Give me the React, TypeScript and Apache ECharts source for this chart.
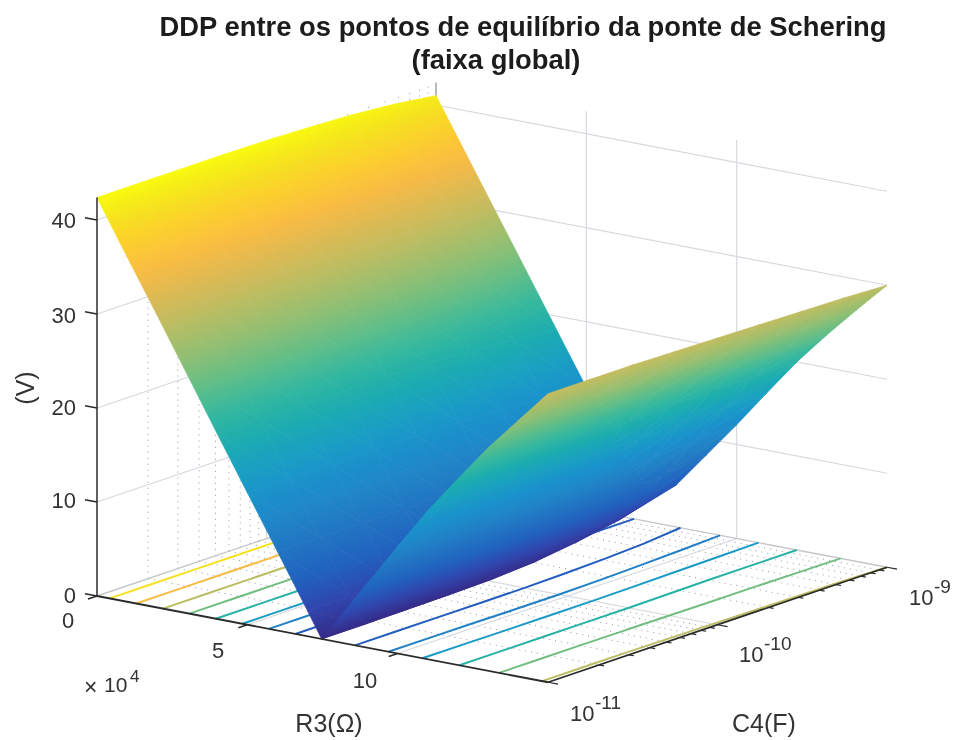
import React, { useEffect, useRef } from "react";
import * as echarts from "echarts";

const titleLine1 = "DDP entre os pontos de equilíbrio da ponte de Schering";
const titleLine2 = "(faixa global)";
const zTicks = [0, 10, 20, 30, 40];
const r3Ticks = [0, 5, 10];
const c4Decades = [-11, -10, -9];
const contourLevels = [5, 10, 15, 20, 25, 30, 35, 40];

// R3 in units of 1e4 ohm
const r3Values = [0, 1, 2, 3, 4, 5, 6, 7, 7.47, 8, 9, 10, 11, 12, 13, 14, 15];
// log10 of C4
const c4Exponents = [-11, -10.75, -10.5, -10.25, -10, -9.75, -9.5, -9.25, -9];
// DDP in volts: one row per R3 value, one column per C4 exponent
const ddp = [
  [42.4, 42.4, 42.4, 42.4, 42.35, 42.2, 42.0, 41.6, 41.0],
  [36.7, 36.7, 36.7, 36.7, 36.7, 36.55, 36.35, 35.95, 35.4],
  [31.1, 31.1, 31.1, 31.1, 31.0, 30.9, 30.7, 30.3, 29.8],
  [25.4, 25.4, 25.4, 25.4, 25.35, 25.2, 25.0, 24.65, 24.2],
  [19.7, 19.7, 19.7, 19.7, 19.7, 19.55, 19.35, 19.0, 18.6],
  [14.05, 14.05, 14.05, 14.05, 14.0, 13.9, 13.7, 13.4, 13.0],
  [8.4, 8.4, 8.4, 8.4, 8.4, 8.3, 8.1, 7.8, 7.4],
  [2.7, 2.7, 2.75, 2.8, 2.9, 3.0, 3.0, 3.0, 3.3],
  [0, 0, 0.05, 0.1, 0.2, 0.5, 1.1, 1.9, 3.2],
  [2.4, 2.4, 2.4, 2.4, 2.5, 2.7, 3.0, 3.6, 4.5],
  [6.9, 6.9, 6.85, 6.8, 6.8, 7.0, 7.3, 7.7, 8.3],
  [11.4, 11.35, 11.3, 11.2, 11.2, 11.3, 11.6, 11.9, 12.1],
  [15.8, 15.75, 15.7, 15.7, 15.7, 15.8, 15.9, 16.0, 16.1],
  [19.8, 19.8, 19.8, 19.8, 19.8, 19.9, 20.0, 20.0, 20.0],
  [23.7, 23.7, 23.7, 23.7, 23.6, 23.6, 23.6, 23.5, 23.5],
  [27.2, 27.2, 27.2, 27.1, 27.1, 27.0, 27.0, 26.9, 26.8],
  [30.7, 30.7, 30.7, 30.6, 30.5, 30.4, 30.3, 30.2, 30.0],
];

const R3_MAX = 15;
const C4_MIN = -11;
const C4_MAX = -9;
const Z_TOP = 42.4;

// colour map as printed in the picture (parula, blues slightly muted) [position 0..63, r, g, b]
const parula: number[][] = [
  [0, 0.2081, 0.1663, 0.5292], [4, 0.19, 0.27, 0.68], [8, 0.13, 0.38, 0.75],
  [12, 0.13, 0.45, 0.76], [16, 0.13, 0.52, 0.78], [20, 0.1, 0.57, 0.8],
  [24, 0.1, 0.63, 0.76], [28, 0.11, 0.68, 0.68], [32, 0.2178, 0.725, 0.6193],
  [36, 0.3953, 0.7459, 0.5244], [40, 0.5709, 0.7485, 0.4494], [44, 0.7184, 0.7411, 0.3905],
  [48, 0.8507, 0.7299, 0.336], [52, 0.9739, 0.7314, 0.2666], [56, 0.988, 0.8066, 0.1794],
  [60, 0.9589, 0.8949, 0.1132], [63, 0.9763, 0.9831, 0.0538],
];

function colorOf(z: number): string {
  const p = Math.max(0, Math.min(1, z / Z_TOP)) * 63;
  let i = 0;
  while (i < parula.length - 2 && parula[i + 1][0] < p) i++;
  const a = parula[i];
  const b = parula[i + 1];
  const t = (p - a[0]) / (b[0] - a[0]);
  const ch = (k: number) => Math.round((a[k] + (b[k] - a[k]) * t) * 255);
  return `rgb(${ch(1)},${ch(2)},${ch(3)})`;
}

// orthographic view of the box onto the page
function project(r: number, e: number, z: number): number[] {
  const d = e - C4_MIN;
  return [97 + 30.07 * r + 169.5 * d, 596 + 5.75 * r - 57.5 * d - 9.4 * z];
}

function lineSeries(points: number[][], color: string, width: number, dash?: number[] | "solid", z = 1) {
  return {
    type: "line",
    data: points,
    showSymbol: false,
    symbol: "none",
    silent: true,
    clip: false,
    z,
    lineStyle: { color, width, type: dash ?? "solid", cap: "butt" },
    emphasis: { disabled: true },
  };
}

function buildLines() {
  const out: any[] = [];
  const grid = "#d6d9de";
  const edge = "#c4c6c9";
  const dots = "#8d97a5";
  const minors: number[] = [];
  for (let d = C4_MIN; d < C4_MAX; d++) {
    for (let m = 2; m <= 9; m++) minors.push(d + Math.log10(m));
  }
  // dotted minor grid: left wall and floor
  minors.forEach((e) => {
    out.push(lineSeries([project(0, e, 0), project(0, e, Z_TOP)], dots, 1, [1, 5]));
    out.push(lineSeries([project(0, e, 0), project(R3_MAX, e, 0)], dots, 1, [1, 5]));
  });
  // walls
  zTicks.slice(1).forEach((z) => {
    out.push(lineSeries([project(0, C4_MIN, z), project(0, C4_MAX, z), project(R3_MAX, C4_MAX, z)], grid, 1.2));
  });
  [5, 10].forEach((r) => {
    out.push(lineSeries([project(r, C4_MAX, 0), project(r, C4_MAX, Z_TOP)], grid, 1.2));
    out.push(lineSeries([project(r, C4_MIN, 0), project(r, C4_MAX, 0)], grid, 1.2));
  });
  out.push(lineSeries([project(0, -10, 0), project(0, -10, Z_TOP)], grid, 1.2));
  out.push(lineSeries([project(0, -10, 0), project(R3_MAX, -10, 0)], grid, 1.2));
  out.push(lineSeries([project(0, C4_MIN, 0), project(0, C4_MAX, 0), project(R3_MAX, C4_MAX, 0)], edge, 1.4));
  out.push(lineSeries([project(0, C4_MAX, 0), project(0, C4_MAX, Z_TOP)], "#8a8a8a", 1.2));

  // contour lines on the floor, found from the table
  contourLevels.forEach((level) => {
    const left: number[][] = [];
    const right: number[][] = [];
    c4Exponents.forEach((e, j) => {
      for (let i = 0; i < r3Values.length - 1; i++) {
        const a = ddp[i][j];
        const b = ddp[i + 1][j];
        if ((a - level) * (b - level) <= 0 && a !== b) {
          const r = r3Values[i] + ((level - a) / (b - a)) * (r3Values[i + 1] - r3Values[i]);
          (a > b ? left : right).push(project(r, e, 0));
        }
      }
    });
    const c = colorOf(level);
    if (left.length > 1) out.push(lineSeries(left, c, 2, "solid", 2));
    if (right.length > 1) out.push(lineSeries(right, c, 2, "solid", 2));
  });

  // axes
  const ink = "#2b2b2b";
  out.push(lineSeries([project(0, C4_MIN, 0), project(0, C4_MIN, Z_TOP)], ink, 1.5, "solid", 6));
  out.push(lineSeries([project(0, C4_MIN, 0), project(R3_MAX, C4_MIN, 0)], ink, 1.8, "solid", 6));
  out.push(lineSeries([project(R3_MAX, C4_MIN, 0), project(R3_MAX, C4_MAX, 0)], ink, 1.8, "solid", 6));
  zTicks.forEach((z) => {
    const p = project(0, C4_MIN, z);
    out.push(lineSeries([p, [p[0] - 12, p[1] - 2.3]], ink, 1.4, "solid", 6));
  });
  r3Ticks.forEach((r) => {
    const p = project(r, C4_MIN, 0);
    out.push(lineSeries([p, [p[0] - 9, p[1] + 3]], ink, 1.4, "solid", 6));
  });
  [...c4Decades, ...minors].forEach((e) => {
    const major = c4Decades.includes(e);
    const p = project(R3_MAX, e, 0);
    const k = major ? 10 : 5;
    out.push(lineSeries([p, [p[0] + k, p[1] + k * 0.19]], ink, 1.2, "solid", 6));
  });
  return out;
}

function buildTriangles() {
  const tris: number[][] = [];
  const add = (i: number, j: number) => [...project(r3Values[i], c4Exponents[j], ddp[i][j]), ddp[i][j]];
  for (let i = 0; i < r3Values.length - 1; i++) {
    for (let j = c4Exponents.length - 2; j >= 0; j--) {
      const a = add(i, j + 1);
      const b = add(i, j);
      const c = add(i + 1, j + 1);
      const d = add(i + 1, j);
      tris.push([...a, ...b, ...c]);
      tris.push([...b, ...c, ...d]);
    }
  }
  return tris;
}

function renderTriangle(_: any, api: any) {
  const v = [0, 1, 2].map((k) => {
    const p = api.coord([api.value(k * 3), api.value(k * 3 + 1)]);
    return [p[0], p[1], api.value(k * 3 + 2)];
  });
  const [p1, p2, p3] = v;
  const det = (p2[0] - p1[0]) * (p3[1] - p1[1]) - (p3[0] - p1[0]) * (p2[1] - p1[1]);
  let paint: any = colorOf((p1[2] + p2[2] + p3[2]) / 3);
  if (Math.abs(det) > 1e-6) {
    const gx = ((p2[2] - p1[2]) * (p3[1] - p1[1]) - (p3[2] - p1[2]) * (p2[1] - p1[1])) / det;
    const gy = ((p2[0] - p1[0]) * (p3[2] - p1[2]) - (p3[0] - p1[0]) * (p2[2] - p1[2])) / det;
    const g2 = gx * gx + gy * gy;
    if (g2 > 1e-9) {
      const low = v.reduce((m, p) => (p[2] < m[2] ? p : m), p1);
      const zHigh = Math.max(p1[2], p2[2], p3[2]);
      const span = zHigh - low[2];
      const stops = [0, 0.25, 0.5, 0.75, 1].map((t) => ({ offset: t, color: colorOf(low[2] + t * span) }));
      paint = new echarts.graphic.LinearGradient(
        low[0],
        low[1],
        low[0] + (gx * span) / g2,
        low[1] + (gy * span) / g2,
        stops,
        true,
      );
    }
  }
  return {
    type: "polygon",
    shape: { points: v.map((p) => [p[0], p[1]]) },
    style: { fill: paint, stroke: paint, lineWidth: 0.7 },
    silent: true,
  };
}

const ink = "#333333";
function label(text: string, x: number, y: number, size: number, align = "left", rotation = 0) {
  return {
    type: "text",
    x,
    y,
    rotation,
    silent: true,
    z: 10,
    style: {
      text,
      x: 0,
      y: 0,
      fill: ink,
      font: `${size}px "Liberation Sans", Arial, sans-serif`,
      align,
      verticalAlign: "middle",
    },
  };
}

function buildTexts() {
  const out: any[] = [];
  const zLabelY = [595, 500, 407, 315, 220];
  zTicks.forEach((z, i) => out.push(label(String(z), 76, zLabelY[i], 22, "right")));
  const rLabelPos = [[68, 620], [218, 650], [365, 680]];
  r3Ticks.forEach((r, i) => out.push(label(String(r), rLabelPos[i][0], rLabelPos[i][1], 22, "center")));
  out.push(label("×", 84, 687, 23));
  out.push(label("10", 104, 684, 21));
  out.push(label("4", 130, 676, 17));
  const cPos = [[570, 713], [739, 654], [909, 597]];
  c4Decades.forEach((e, i) => {
    out.push(label("10", cPos[i][0], cPos[i][1], 22));
    out.push(label(String(e), cPos[i][0] + 25, cPos[i][1] - 11, 19));
  });
  out.push(label("R3(Ω)", 329, 723, 25, "center"));
  out.push(label("C4(F)", 764, 723, 25, "center"));
  out.push(label("(V)", 25, 388, 25, "center", Math.PI / 2));
  return out;
}

export default function App() {
  const ref = useRef<HTMLDivElement>(null);
  useEffect(() => {
    document.body.style.margin = "0";
    const chart = echarts.init(ref.current!, undefined, { renderer: "svg" });
    const titleFont = { fontFamily: '"Liberation Sans", Arial, sans-serif', fontSize: 27.4, fontWeight: "bold", color: "#1c1c1c" };
    chart.setOption({
      animation: false,
      backgroundColor: "#ffffff",
      title: [
        { text: titleLine1, left: 518, top: 8, textAlign: "center", textStyle: titleFont },
        { text: titleLine2, left: 491, top: 41, textAlign: "center", textStyle: titleFont },
      ],
      grid: { left: 0, top: 0, width: 956, height: 740 },
      xAxis: { type: "value", min: 0, max: 956, show: false },
      yAxis: { type: "value", min: 0, max: 740, inverse: true, show: false },
      tooltip: { show: false },
      graphic: buildTexts(),
      series: [
        ...buildLines(),
        {
          type: "custom",
          data: buildTriangles(),
          renderItem: renderTriangle,
          silent: true,
          clip: false,
          z: 4,
          encode: { x: 0, y: 1 },
        },
      ],
    });
    return () => chart.dispose();
  }, []);
  return <div ref={ref} style={{ width: 956, height: 740, filter: "blur(0.5px)" }} />;
}
